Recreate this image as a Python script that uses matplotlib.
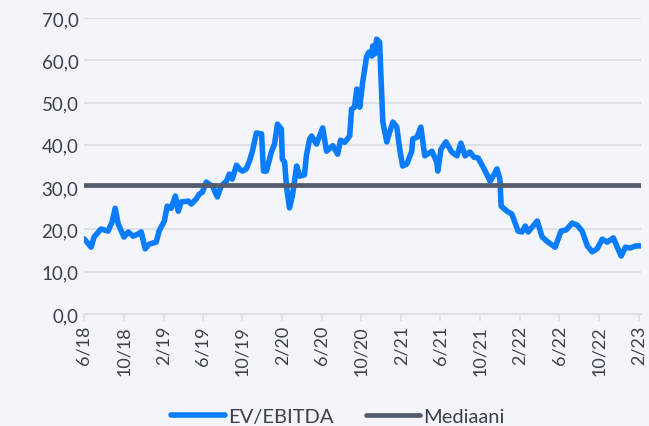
import matplotlib
matplotlib.use("Agg")
import matplotlib.pyplot as plt
import pandas as pd
from matplotlib.ticker import FuncFormatter, MultipleLocator

dates = [
    "2018-06-01", "2018-06-10", "2018-06-23", "2018-07-02", "2018-07-23", "2018-08-14",
    "2018-08-26", "2018-09-05", "2018-09-14", "2018-10-02", "2018-10-15", "2018-10-30",
    "2018-11-14", "2018-11-24", "2018-12-06", "2018-12-18", "2019-01-09", "2019-01-18",
    "2019-02-03", "2019-02-12", "2019-02-24", "2019-03-09", "2019-03-18", "2019-03-27",
    "2019-04-18", "2019-04-27", "2019-05-12", "2019-05-22", "2019-05-31", "2019-06-12",
    "2019-06-21", "2019-07-01", "2019-07-16", "2019-07-28", "2019-08-13", "2019-08-22",
    "2019-08-31", "2019-09-13", "2019-09-22", "2019-10-01", "2019-10-13", "2019-10-23",
    "2019-11-01", "2019-11-13", "2019-11-29", "2019-12-05", "2019-12-14", "2019-12-30",
    "2020-01-08", "2020-01-17", "2020-01-29", "2020-02-01", "2020-02-08", "2020-02-14",
    "2020-02-23", "2020-03-03", "2020-03-16", "2020-03-25", "2020-04-09", "2020-04-15",
    "2020-04-25", "2020-05-01", "2020-05-16", "2020-06-04", "2020-06-16", "2020-07-05",
    "2020-07-20", "2020-07-29", "2020-08-11", "2020-08-26", "2020-09-01", "2020-09-10",
    "2020-09-17", "2020-09-26", "2020-10-05", "2020-10-17", "2020-10-24", "2020-11-02",
    "2020-11-05", "2020-11-11", "2020-11-17", "2020-11-26", "2020-12-06", "2020-12-18",
    "2020-12-27", "2021-01-06", "2021-01-18", "2021-01-27", "2021-02-05", "2021-02-18",
    "2021-03-05", "2021-03-08", "2021-03-21", "2021-04-02", "2021-04-14", "2021-05-06",
    "2021-05-21", "2021-05-24", "2021-06-03", "2021-06-18", "2021-07-06", "2021-07-22",
    "2021-08-03", "2021-08-16", "2021-08-31", "2021-09-12", "2021-09-25", "2021-10-10",
    "2021-10-22", "2021-11-01", "2021-11-13", "2021-11-22", "2021-12-01", "2021-12-05",
    "2021-12-23", "2022-01-07", "2022-01-26", "2022-02-07", "2022-02-17", "2022-02-26",
    "2022-03-26", "2022-04-10", "2022-04-28", "2022-05-20", "2022-06-07", "2022-06-23",
    "2022-07-11", "2022-07-27", "2022-08-11", "2022-08-27", "2022-09-11", "2022-09-26",
    "2022-10-12", "2022-10-27", "2022-11-15", "2022-11-27", "2022-12-09", "2022-12-22",
    "2023-01-06", "2023-01-22", "2023-02-06",
]
ev_ebitda = [
    17.8, 17.0, 15.8, 18.2, 20.1, 19.6,
    21.7, 25.0, 21.3, 18.2, 19.4, 18.4,
    18.9, 19.4, 15.4, 16.5, 17.0, 19.6,
    22.0, 25.5, 25.0, 27.9, 24.3, 26.5,
    26.7, 26.0, 27.2, 28.4, 28.8, 31.2,
    30.7, 30.3, 27.7, 30.3, 31.4, 33.1,
    31.9, 35.2, 34.3, 33.8, 34.3, 36.2,
    38.5, 42.8, 42.6, 33.8, 33.8, 38.5,
    40.2, 44.9, 43.7, 36.6, 35.9, 30.0,
    25.1, 28.0, 35.0, 32.6, 32.9, 37.5,
    41.4, 42.1, 40.2, 44.0, 38.5, 39.8,
    37.8, 41.1, 40.6, 42.1, 48.5, 48.9,
    53.2, 48.9, 54.8, 60.8, 61.9, 61.0,
    63.4, 61.5, 65.0, 64.3, 45.4, 40.7,
    43.0, 45.4, 44.2, 39.0, 35.0, 35.5,
    38.5, 41.4, 41.8, 44.2, 37.4, 38.5,
    35.9, 33.8, 39.0, 40.7, 38.3, 37.4,
    40.4, 37.4, 38.3, 37.1, 36.9, 34.8,
    33.0, 31.4, 33.0, 34.3, 31.9, 25.5,
    24.3, 23.6, 19.6, 19.4, 20.8, 19.4,
    22.0, 18.2, 17.0, 15.8, 19.6, 19.9,
    21.5, 21.0, 19.6, 16.1, 14.7, 15.4,
    17.7, 17.0, 18.0, 15.8, 13.7, 15.8,
    15.6, 16.1, 16.1,
]
median_value = 30.5
tick_dates = ["2018-06-01", "2018-10-01", "2019-02-01", "2019-06-01", "2019-10-01",
              "2020-02-01", "2020-06-01", "2020-10-01", "2021-02-01", "2021-06-01",
              "2021-10-01", "2022-02-01", "2022-06-01", "2022-10-01", "2023-02-01"]
tick_labels = ["6/18", "10/18", "2/19", "6/19", "10/19", "2/20", "6/20", "10/20",
               "2/21", "6/21", "10/21", "2/22", "6/22", "10/22", "2/23"]
series_names = ["EV/EBITDA", "Mediaani"]

bg = "#f3f5fa"
blue = "#0a7cff"
dark = "#535c6d"
grid_c = "#dde1e7"
text_c = "#3a404c"

plt.rcParams["font.family"] = ["Lato", "DejaVu Sans"]

fig = plt.figure(figsize=(6.49, 4.27), dpi=100, facecolor=bg)
ax = fig.add_axes([84 / 649, 1 - 315 / 427, (641 - 84) / 649, (315 - 19) / 427])
ax.set_facecolor(bg)

x = pd.to_datetime(dates)
xmin = pd.Timestamp("2018-06-01")
xmax = pd.Timestamp("2023-02-08")

ax.plot(x, ev_ebitda, color=blue, lw=4.0, solid_joinstyle="round",
        solid_capstyle="round", label=series_names[0], zorder=3)
ax.plot([xmin, xmax], [median_value, median_value], color=dark, lw=3.4,
        solid_capstyle="round", label=series_names[1], zorder=4)

ax.set_xlim(xmin, xmax)
ax.set_ylim(0, 70)
ax.yaxis.set_major_locator(MultipleLocator(10))
ax.yaxis.set_major_formatter(FuncFormatter(lambda v, p: f"{v:.1f}".replace(".", ",")))
ax.grid(axis="y", color=grid_c, lw=1.5, zorder=0)
ax.set_axisbelow(True)

ax.set_xticks(pd.to_datetime(tick_dates))
ax.set_xticklabels(tick_labels, rotation=90)

for s in ["top", "right", "left"]:
    ax.spines[s].set_visible(False)
ax.spines["bottom"].set_color(grid_c)
ax.spines["bottom"].set_linewidth(1.5)
ax.tick_params(axis="y", length=0, pad=4, labelsize=13.5, labelcolor=text_c)
ax.tick_params(axis="x", length=5, width=1.2, color=grid_c, pad=3,
               labelsize=13, labelcolor=text_c)

leg = fig.legend(loc="center", bbox_to_anchor=(0.52, 1 - 417 / 427), ncol=2,
                 frameon=False, fontsize=14.5, handlelength=2.7, handletextpad=0.15,
                 columnspacing=1.6, labelcolor=text_c)

fig.savefig("out.png", dpi=100, facecolor=bg)
